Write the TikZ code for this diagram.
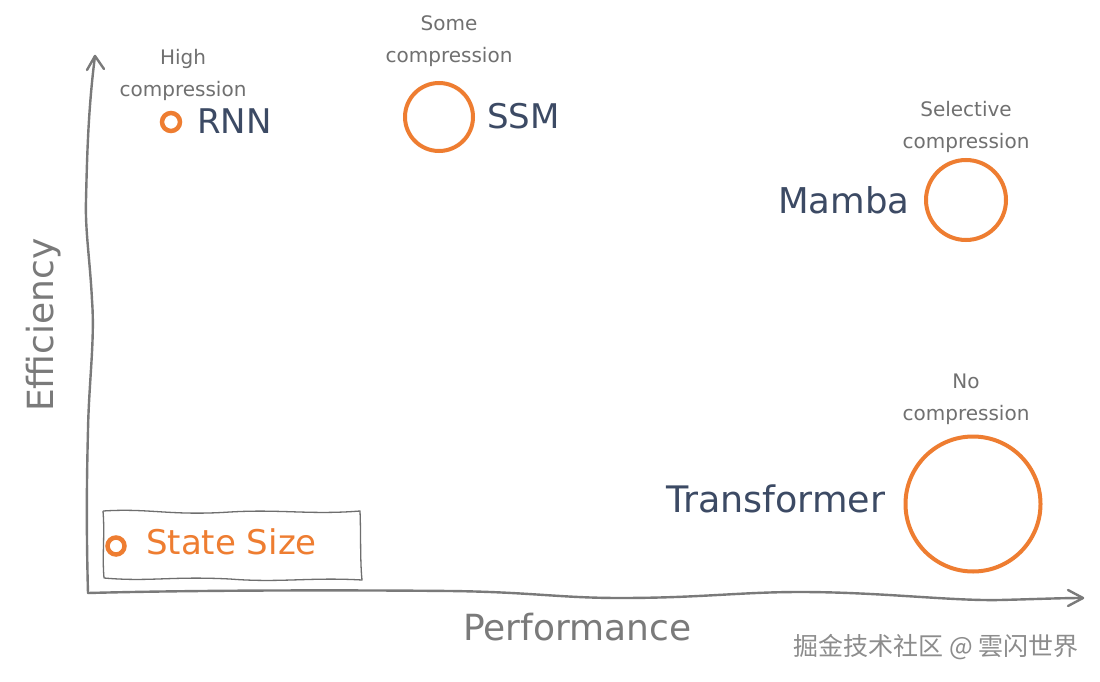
\documentclass[tikz,border=0pt]{standalone}
\usepackage{fontspec}
\setmainfont{DejaVu Sans}
\newfontfamily\cjkfont{Noto Sans CJK SC}
\definecolor{orng}{HTML}{EE7D31}
\definecolor{navy}{HTML}{3C4A64}
\definecolor{axisgray}{HTML}{7A7A7A}
\definecolor{notegray}{HTML}{707070}
\definecolor{wmgray}{HTML}{8C8C8C}
\begin{document}
\begin{tikzpicture}[x=1pt,y=-1pt,
  axisline/.style={draw=axisgray,line width=2.4pt,line cap=round,line join=round},
  model/.style={font=\fontsize{34}{40}\selectfont,text=navy,inner sep=0pt,anchor=base west},
  note/.style={font=\fontsize{20}{32}\selectfont,text=notegray,align=center,inner sep=0pt,anchor=north},
  axislabel/.style={font=\fontsize{36}{40}\selectfont,text=axisgray,inner sep=0pt,anchor=base west},
  ring/.style={circle,draw=orng,line width=4pt,inner sep=0pt},
  legendbox/.style={draw=axisgray!90!black,line width=1.3pt,line join=round}]
\useasboundingbox[fill=white] (0,0) rectangle (1100,682);

% axes
\coordinate (O) at (88,593);
\coordinate (ytip) at (95,56);
\coordinate (xtip) at (1083,598);
\draw[axisline] (O) .. controls (86,520) and (87,470) .. (88,430)
  .. controls (89,380) and (95,340) .. (92,300)
  .. controls (90,260) and (85,230) .. (86,200)
  .. controls (87,160) and (88,110) .. (ytip);
\draw[axisline] (87,70) -- (ytip) -- (104,69);
\draw[axisline] (O) .. controls (200,590) and (350,590) .. (450,591)
  .. controls (530,592) and (560,598) .. (620,598)
  .. controls (700,598) and (740,592) .. (800,592)
  .. controls (880,592) and (950,601) .. (1000,600)
  .. controls (1040,599) and (1060,598) .. (xtip);
\draw[axisline] (1068,590) -- (xtip) -- (1068,606);

\node[axislabel,rotate=90] (eff) at (53,412) {Efficiency};
\node[axislabel] (perf) at (463,640) {Performance};

% RNN
\node[ring,minimum size=18pt,line width=4.5pt] (rnnc) at (171,122) {};
\node[model] (rnn) at (197,134) {RNN};
\node[note] (rnnn) at (183,49) {High\\compression};

% SSM
\node[ring,minimum size=68pt] (ssmc) at (439,117) {};
\node[model] (ssm) at (487,129) {SSM};
\node[note] (ssmn) at (449,15) {Some\\compression};

% Mamba
\node[ring,minimum size=80pt] (mambac) at (966,200) {};
\node[model,font=\fontsize{35.5}{40}\selectfont] (mamba) at (778,213) {Mamba};
\node[note] (mamban) at (966,101) {Selective\\compression};

% Transformer
\node[ring,minimum size=135pt] (trc) at (973,504) {};
\node[model,font=\fontsize{36.5}{40}\selectfont] (tr) at (666,512) {Transformer};
\node[note] (trn) at (966,374) {No\\compression};

% legend
\coordinate (lb) at (103,511);
\draw[legendbox] (lb) .. controls (150,508) and (170,516) .. (230,512)
  .. controls (280,509) and (310,515) .. (360,511)
  .. controls (361,535) and (360,560) .. (362,580)
  .. controls (310,577) and (280,583) .. (230,579)
  .. controls (170,576) and (150,582) .. (104,578)
  .. controls (102,555) and (105,535) .. (lb);
\node[ring,minimum size=17pt,line width=4.5pt] (lgc) at (116,546) {};
\node[model,text=orng] (lg) at (146,554) {State Size};

% watermark
\node[font=\cjkfont\fontsize{25}{28}\selectfont,text=wmgray,inner sep=0pt] (wm) at (936,647) {掘金技术社区 @ 雲闪世界};
\end{tikzpicture}
\end{document}
